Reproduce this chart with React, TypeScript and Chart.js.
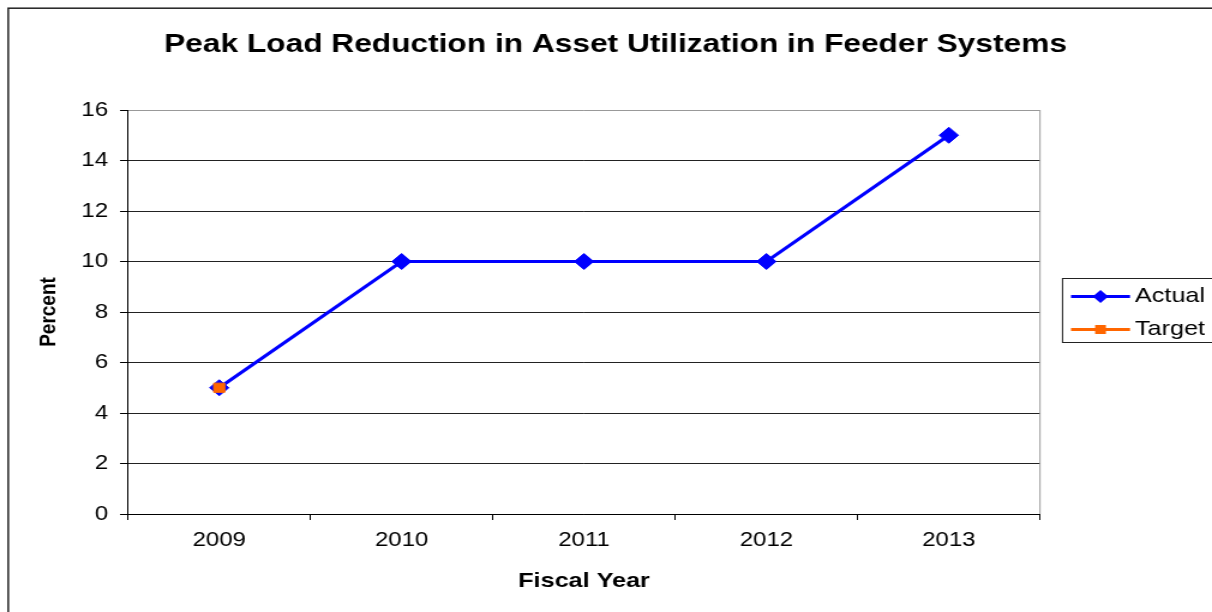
import React, { useEffect, useRef } from 'react';
import { Chart, registerables } from 'chart.js';

Chart.register(...registerables);

// ---- data ----
const categories = ['2009', '2010', '2011', '2012', '2013'];
const actualValues = [5, 10, 10, 10, 15];
const targetValues: (number | null)[] = [5, null, null, null, null];
const seriesNames = ['Actual', 'Target'];
const seriesColors = ['#0000FF', '#FF6600'];
const yMin = 0;
const yMax = 16;
const yStep = 2;
const titleText = 'Peak Load Reduction in Asset Utilization in Feeder Systems';
const xTitleText = 'Fiscal Year';
const yTitleText = 'Percent';

// ---- layout ----
const STRETCH = 1.2; // reference is horizontally stretched
const W = 1212 / STRETCH;
const H = 612;
const FAMILY = '"Liberation Sans", Arial, sans-serif';
const PLOT_LEFT = 128 / STRETCH;
const PLOT_RIGHT = 1040 / STRETCH;
const PLOT_TOP = 110;
const PLOT_BOTTOM = 514;

const decorPlugin = {
  id: 'decor',
  beforeDraw(chart: any) {
    const ctx = chart.ctx as CanvasRenderingContext2D;
    ctx.save();
    ctx.fillStyle = '#ffffff';
    ctx.fillRect(0, 0, chart.width, chart.height);
    // outer frame
    ctx.strokeStyle = '#222';
    ctx.lineWidth = 1.5;
    ctx.strokeRect(8.2 / STRETCH, 8.2, 3000, 3000);
    // title
    ctx.fillStyle = '#000';
    ctx.font = `bold 26.4px ${FAMILY}`;
    ctx.textAlign = 'center';
    ctx.textBaseline = 'alphabetic';
    ctx.fillText(titleText, 615.5 / STRETCH, 51.7);
    ctx.restore();
  },
  beforeDatasetsDraw(chart: any) {
    const ctx = chart.ctx as CanvasRenderingContext2D;
    const a = chart.chartArea;
    ctx.save();
    ctx.strokeStyle = '#999';
    ctx.lineWidth = 1;
    ctx.beginPath();
    ctx.moveTo(a.right, a.top);
    ctx.lineTo(a.right, a.bottom);
    ctx.stroke();
    ctx.restore();
  },
  afterDraw(chart: any) {
    const ctx = chart.ctx as CanvasRenderingContext2D;
    ctx.save();
    const bx = 1062.5 / STRETCH;
    const by = 278.5;
    ctx.strokeStyle = '#222';
    ctx.lineWidth = 1;
    ctx.strokeRect(bx, by, 400, 64);
    const x0 = 1071 / STRETCH;
    const x1 = 1130 / STRETCH;
    const cx = (x0 + x1) / 2;
    const rows = [296.5, 329.5];
    rows.forEach((y, i) => {
      ctx.strokeStyle = seriesColors[i];
      ctx.lineWidth = 3;
      ctx.beginPath();
      ctx.moveTo(x0, y);
      ctx.lineTo(x1, y);
      ctx.stroke();
      ctx.fillStyle = seriesColors[i];
      ctx.beginPath();
      if (i === 0) {
        const r = 6.5;
        ctx.moveTo(cx, y - r);
        ctx.lineTo(cx + r, y);
        ctx.lineTo(cx, y + r);
        ctx.lineTo(cx - r, y);
        ctx.closePath();
      } else {
        const s = 4.5;
        ctx.rect(cx - s, y - s, 2 * s, 2 * s);
      }
      ctx.fill();
      ctx.fillStyle = '#000';
      ctx.font = `21px ${FAMILY}`;
      ctx.textAlign = 'left';
      ctx.textBaseline = 'alphabetic';
      ctx.fillText(seriesNames[i], 1135 / STRETCH, y + 5);
    });
    ctx.restore();
  },
};

export default function App() {
  const ref = useRef<HTMLCanvasElement>(null);

  useEffect(() => {
    const canvas = ref.current;
    if (!canvas) return;
    const chart = new Chart(canvas, {
      type: 'line',
      data: {
        labels: categories,
        datasets: [
          {
            label: seriesNames[1],
            data: targetValues,
            borderColor: seriesColors[1],
            backgroundColor: seriesColors[1],
            borderWidth: 3,
            pointStyle: 'rect',
            pointRadius: 6.5,
            pointBorderWidth: 1,
            pointBackgroundColor: seriesColors[1],
            pointBorderColor: seriesColors[1],
            order: 0,
          },
          {
            label: seriesNames[0],
            data: actualValues,
            borderColor: seriesColors[0],
            backgroundColor: seriesColors[0],
            borderWidth: 3,
            pointStyle: 'rectRot',
            pointRadius: 8,
            pointBorderWidth: 1,
            pointBackgroundColor: seriesColors[0],
            pointBorderColor: seriesColors[0],
            tension: 0,
            order: 1,
          },
        ],
      },
      options: {
        responsive: false,
        animation: false,
        devicePixelRatio: 1,
        layout: {
          padding: { left: 0, top: PLOT_TOP, right: W - PLOT_RIGHT, bottom: 0 },
        },
        plugins: {
          legend: { display: false },
          title: { display: false },
          tooltip: { enabled: false },
        },
        scales: {
          x: {
            type: 'category',
            offset: true,
            grid: {
              display: true,
              offset: true,
              drawOnChartArea: false,
              drawTicks: true,
              tickLength: 6,
              color: '#000',
              tickColor: '#000',
            },
            border: { display: true, color: '#000', width: 1 },
            ticks: {
              color: '#000',
              font: { family: FAMILY, size: 20 },
              padding: 8,
              maxRotation: 0,
              autoSkip: false,
            },
            title: {
              display: true,
              text: xTitleText,
              color: '#000',
              font: { family: FAMILY, size: 21, weight: 'bold' },
              padding: { top: 0, bottom: 18.5 },
            },
            afterFit: (s: any) => {
              s.height = H - PLOT_BOTTOM;
            },
          },
          y: {
            min: yMin,
            max: yMax,
            ticks: {
              stepSize: yStep,
              color: '#000',
              font: { family: FAMILY, size: 20 },
              padding: 10,
            },
            grid: {
              color: (c: any) => (c.tick && c.tick.value === yMax ? '#999' : '#222'),
              tickColor: '#000',
              tickLength: 8 / STRETCH,
              drawTicks: true,
            },
            border: { display: true, color: '#000', width: 1 },
            title: {
              display: true,
              text: yTitleText,
              color: '#000',
              font: { family: FAMILY, size: 19, weight: 'bold' },
              padding: { top: 29, bottom: 0 },
            },
            afterFit: (s: any) => {
              s.width = PLOT_LEFT;
            },
          },
        },
      } as any,
      plugins: [decorPlugin],
    });
    return () => chart.destroy();
  }, []);

  return (
    <div
      style={{
        position: 'absolute',
        left: 0,
        top: 0,
        width: 1212,
        height: 612,
        overflow: 'hidden',
        background: '#fff',
      }}
    >
      <div style={{ transform: `scaleX(${STRETCH})`, transformOrigin: '0 0', width: W, height: H }}>
        <canvas ref={ref} width={W} height={H} style={{ width: W, height: H, display: 'block' }} />
      </div>
    </div>
  );
}
